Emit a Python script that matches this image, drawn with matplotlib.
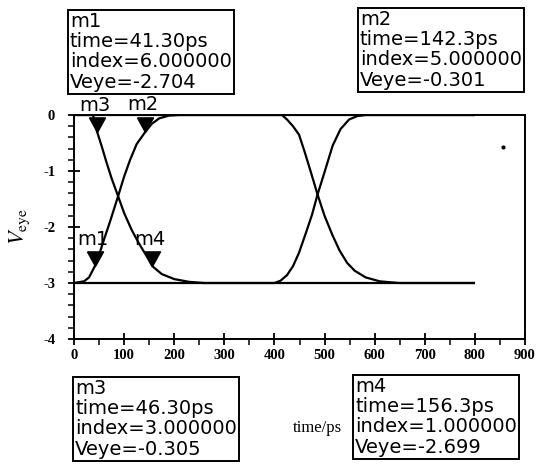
import matplotlib
matplotlib.use("Agg")
import matplotlib.pyplot as plt
from matplotlib.ticker import MultipleLocator

plt.rcParams["axes.unicode_minus"] = False

# eye traces (time in ps, Veye in V)
trace_a_t = [0, 38, 46.3, 55, 65, 75, 88, 100, 115, 130, 145, 156.3, 175, 200, 230, 260,
             400, 412, 425, 437, 449, 463, 475, 486, 500, 516, 532, 549, 565, 582, 800]
trace_a_v = [0, 0, -0.305, -0.55, -0.85, -1.13, -1.45, -1.75, -2.05, -2.3, -2.52, -2.699, -2.84, -2.93, -2.98, -3.0,
             -3.0, -2.96, -2.86, -2.7, -2.46, -2.1, -1.78, -1.42, -1.02, -0.55, -0.25, -0.08, -0.02, 0, 0]

trace_b_t = [0, 20, 30, 41.3, 50, 60, 72, 88, 100, 112, 125, 142.3, 155, 170, 190, 210,
             415, 425, 437, 449, 460, 472, 486, 500, 516, 530, 545, 560, 582, 610, 648, 800]
trace_b_v = [-3, -2.97, -2.9, -2.704, -2.5, -2.22, -1.9, -1.45, -1.1, -0.8, -0.52, -0.301, -0.16, -0.06, -0.01, 0,
             0, -0.08, -0.2, -0.35, -0.65, -1.0, -1.42, -1.8, -2.15, -2.42, -2.64, -2.78, -2.9, -2.97, -3.0, -3.0]

low_t = [0, 800]
low_v = [-3, -3]
high_t = [0, 800]
high_v = [0, 0]

# markers
mk_names = ["m1", "m2", "m3", "m4"]
mk_time = [41.30, 142.3, 46.30, 156.3]
mk_index = [6, 5, 3, 1]
mk_veye = [-2.704, -0.301, -0.305, -2.699]
mk_time_txt = ["41.30", "142.3", "46.30", "156.3"]
mk_veye_txt = ["-2.704", "-0.301", "-0.305", "-2.699"]

W, H = 536, 469
fig = plt.figure(figsize=(W / 100, H / 100), dpi=100)
ax = fig.add_axes([74 / W, 1 - 339 / H, 451 / W, 224 / H])

for t, v in [(trace_a_t, trace_a_v), (trace_b_t, trace_b_v), (low_t, low_v), (high_t, high_v)]:
    ax.plot(t, v, color="black", lw=1.6, solid_capstyle="butt")
ax.plot([857], [-0.57], "o", color="black", ms=2)

# triangle markers with tip on the point
tri = [(-0.55, 1), (0.55, 1), (0, 0), (-0.55, 1)]
ax.plot(mk_time, mk_veye, linestyle="none", marker=tri, ms=21, color="black", clip_on=False)
for name, t, v in zip(mk_names, mk_time, mk_veye):
    ax.annotate(name, (t, v), xytext=(-2, 27), textcoords="offset pixels",
                ha="center", va="center", fontsize=14, family="DejaVu Sans", annotation_clip=False)

ax.set_xlim(0, 900)
ax.set_ylim(-4, 0)
ax.xaxis.set_major_locator(MultipleLocator(100))
ax.xaxis.set_minor_locator(MultipleLocator(50))
ax.yaxis.set_major_locator(MultipleLocator(1))
ax.yaxis.set_minor_locator(MultipleLocator(0.2))
ax.tick_params(which="major", direction="inout", length=9, width=1.3)
ax.tick_params(which="minor", direction="out", length=4, width=1.1)
ax.tick_params(axis="x", which="major", pad=3)
ax.tick_params(axis="y", which="major", pad=9)
for lab in ax.get_xticklabels() + ax.get_yticklabels():
    lab.set_fontfamily("Liberation Serif")
    lab.set_fontweight("bold")
    lab.set_fontsize(10.5)
for s in ax.spines.values():
    s.set_linewidth(1.4)

fig.text(20 / W, 1 - 227 / H, r"$V_{\mathrm{eye}}$", rotation=90, ha="center", va="center",
         fontsize=16, math_fontfamily="stix")
fig.text(317 / W, 1 - 428 / H, "time/ps", ha="center", va="center", fontsize=12, family="Liberation Serif")

# readout boxes
box_pos = [(70, 12), (360, 10), (75, 379), (355, 377)]
for (bx, by), name, ind, tt, vt in zip(box_pos, mk_names, mk_index, mk_time_txt, mk_veye_txt):
    txt = f"{name}\ntime={tt}ps\nindex={ind:.6f}\nVeye={vt}"
    fig.text(bx / W, 1 - by / H, txt, ha="left", va="top", fontsize=14, family="DejaVu Sans",
             linespacing=1.08,
             bbox=dict(boxstyle="square,pad=0.12", fc="white", ec="black", lw=1.4))

fig.savefig("out.png", dpi=100)
